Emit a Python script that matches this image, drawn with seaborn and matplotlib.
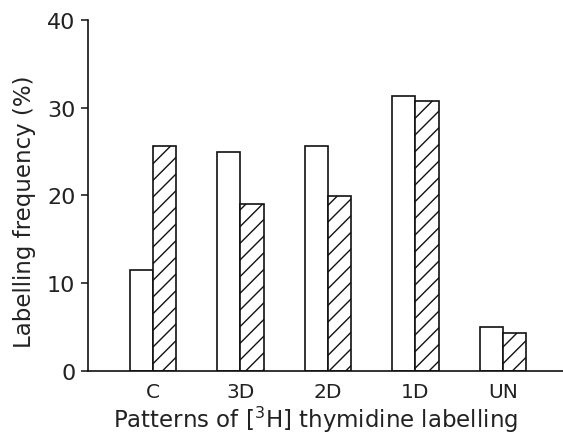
import matplotlib
matplotlib.use("Agg")
import matplotlib.pyplot as plt
import seaborn as sns
import pandas as pd

# values
patterns = ["C", "3D", "2D", "1D", "UN"]
open_bars = [11.5, 24.9, 25.6, 31.3, 5.0]
hatched_bars = [25.6, 19.0, 19.9, 30.8, 4.3]
y_ticks = [0, 10, 20, 30, 40]

df = pd.DataFrame({
    "pattern": patterns * 2,
    "freq": open_bars + hatched_bars,
    "group": ["open"] * len(patterns) + ["hatched"] * len(patterns),
})

sns.set_style("ticks")
plt.rcParams["font.family"] = ["DejaVu Sans"]
plt.rcParams["hatch.linewidth"] = 1.0
plt.rcParams["hatch.color"] = "#111111"

fig = plt.figure(figsize=(5.63, 4.35), dpi=100)
ax = fig.add_axes([0.156, 0.145, 0.844, 0.807])

sns.barplot(
    data=df,
    x="pattern",
    y="freq",
    hue="group",
    palette=["white", "white"],
    saturation=1,
    edgecolor="#111111",
    linewidth=1.2,
    width=0.53,
    legend=False,
    ax=ax
)

for bar in ax.containers[1]:
    bar.set_hatch("//")

ax.set_xlim(-0.743, 4.686)
ax.set_ylim(0, 40)
ax.set_yticks(y_ticks)

sns.despine(ax=ax)
for side in ["left", "bottom"]:
    ax.spines[side].set_linewidth(1.2)
    ax.spines[side].set_color("#111111")

ax.tick_params(axis="x", length=0, labelsize=14.5, pad=8, colors="#222222")
ax.tick_params(axis="y", length=5, width=1.2, labelsize=16, pad=4, colors="#222222")

ax.set_xlabel("Patterns of [$^3$H] thymidine labelling", fontsize=16.5, color="#222222")
ax.set_ylabel("Labelling frequency (%)", fontsize=16.5, color="#222222")
ax.xaxis.label.set_va("baseline")
ax.yaxis.label.set_va("center")
ax.xaxis.set_label_coords(0.48, -0.1595)
ax.yaxis.set_label_coords(-0.133, 0.456)

fig.savefig("out.png", dpi=100)
plt.close(fig)
